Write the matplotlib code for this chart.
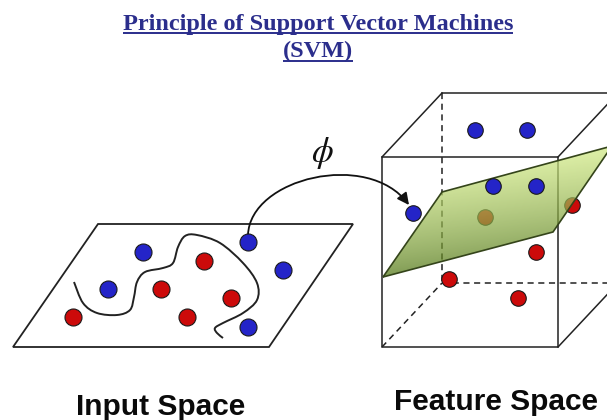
import numpy as np
import matplotlib
matplotlib.use("Agg")
import matplotlib.pyplot as plt
from matplotlib.path import Path
from matplotlib.patches import Polygon, PathPatch, FancyArrowPatch

plt.rcParams["mathtext.fontset"] = "stix"

# ---------------- data (pixel coordinates of the diagram) ----------------
title_line1 = "Principle of Support Vector Machines"
title_line2 = "(SVM)"
label_input = "Input Space"
label_feature = "Feature Space"
phi_label = r"$\phi$"

input_plane = [(98, 224), (353, 224), (269, 347), (13, 347)]
input_blue_x = [143, 108, 248, 283, 248]
input_blue_y = [252, 289, 242, 270, 327]
input_red_x = [73, 204, 161, 231, 187]
input_red_y = [317, 261, 289, 298, 317]
boundary_x = [74, 83, 97, 117, 130, 134, 137, 145, 163, 173, 178, 185, 197,
              220, 243, 257, 257, 243, 223, 215, 217, 223]
boundary_y = [282, 303, 313, 315, 310, 297, 282, 272, 268, 263, 247, 236, 235,
              243, 263, 283, 300, 313, 323, 328, 333, 338]

mapping_arc = [(248, 235), (250, 178), (368, 150), (409, 205)]

cube_front = [(382, 157), (558, 157), (558, 347), (382, 347)]
cube_offset = (60, -64)

plane_pts = [(383, 277), (442, 192), (612, 146), (553, 232)]

feat_blue_above_x = [493, 536]
feat_blue_above_y = [186, 186]
feat_blue_other_x = [475, 527, 413]
feat_blue_other_y = [130, 130, 213]
feat_red_behind_x = [485, 572]
feat_red_behind_y = [217, 205]
feat_red_below_x = [536, 449, 518]
feat_red_below_y = [252, 279, 298]

# ---------------- figure ----------------
fig = plt.figure(figsize=(6.07, 4.20), dpi=100)
ax = fig.add_axes([0, 0, 1, 1])
ax.set_xlim(0, 607)
ax.set_ylim(420, 0)
ax.axis("off")

LINE = "#222222"
BLUE = "#2424c8"
RED = "#cc0a0a"
EDGE = "#1a1a1a"

# title
tcol = "#2b2e8c"
t1 = ax.text(318, 30, title_line1, ha="center", va="baseline", color=tcol,
             fontsize=17.5, fontweight="bold", family="Liberation Serif")
t2 = ax.text(318, 57, title_line2, ha="center", va="baseline", color=tcol,
             fontsize=17.5, fontweight="bold", family="Liberation Serif")
fig.canvas.draw()
inv = ax.transData.inverted()
for t, yl in ((t1, 33), (t2, 61)):
    bb = t.get_window_extent()
    x0 = inv.transform((bb.x0, bb.y0))[0]
    x1 = inv.transform((bb.x1, bb.y0))[0]
    ax.plot([x0, x1], [yl, yl], color=tcol, lw=1.4, solid_capstyle="butt")

# ---------------- input space ----------------
ax.add_patch(Polygon(input_plane, closed=True, fill=False, edgecolor=LINE, lw=1.3, zorder=2))

# smooth boundary curve (Catmull-Rom -> cubic Bezier path)
pts = np.column_stack([boundary_x, boundary_y]).astype(float)
verts = [tuple(pts[0])]
codes = [Path.MOVETO]
n = len(pts)
for i in range(n - 1):
    p0 = pts[max(i - 1, 0)]
    p1 = pts[i]
    p2 = pts[i + 1]
    p3 = pts[min(i + 2, n - 1)]
    c1 = p1 + (p2 - p0) / 6.0
    c2 = p2 - (p3 - p1) / 6.0
    verts += [tuple(c1), tuple(c2), tuple(p2)]
    codes += [Path.CURVE4] * 3
ax.add_patch(PathPatch(Path(verts, codes), fill=False, edgecolor=LINE, lw=1.4, zorder=3))

S_IN = 150
ax.scatter(input_blue_x, input_blue_y, s=S_IN, color=BLUE, edgecolors=EDGE, linewidths=0.8, zorder=5)
ax.scatter(input_red_x, input_red_y, s=S_IN, color=RED, edgecolors=EDGE, linewidths=0.8, zorder=5)

# mapping arrow
arc = Path(mapping_arc, [Path.MOVETO, Path.CURVE4, Path.CURVE4, Path.CURVE4])
ax.add_patch(FancyArrowPatch(path=arc, arrowstyle="-|>,head_length=7,head_width=3.5",
                             color="#111111", lw=1.3, zorder=4))
ax.text(322, 153, phi_label, ha="center", va="center", fontsize=25, color="#111111")

# ---------------- feature space cube ----------------
dx, dy = cube_offset
back = [(x + dx, y + dy) for x, y in cube_front]
ax.add_patch(Polygon(cube_front, closed=True, fill=False, edgecolor=LINE, lw=1.1, zorder=2))
solid_edges = [(cube_front[0], back[0]), (back[0], back[1]),
               (cube_front[1], back[1]), (cube_front[2], back[2])]
for a, b in solid_edges:
    ax.plot([a[0], b[0]], [a[1], b[1]], color=LINE, lw=1.1, zorder=2)
dashed_edges = [(back[0], back[3]), (back[3], back[2]), (cube_front[3], back[3])]
for a, b in dashed_edges:
    ax.plot([a[0], b[0]], [a[1], b[1]], color=LINE, lw=1.1, ls=(0, (4, 3)), zorder=2)

S_F = 125
ax.scatter(feat_red_below_x, feat_red_below_y, s=S_F, color=RED, edgecolors=EDGE, linewidths=0.8, zorder=3)
ax.scatter(feat_red_behind_x, feat_red_behind_y, s=S_F, color=RED, edgecolors=EDGE, linewidths=0.8, zorder=3)
ax.scatter(feat_blue_other_x, feat_blue_other_y, s=S_F, color=BLUE, edgecolors=EDGE, linewidths=0.8, zorder=3)

# green hyperplane with gradient across its short direction
xs = [p[0] for p in plane_pts]
ys = [p[1] for p in plane_pts]
gx0, gx1, gy0, gy1 = min(xs), max(xs), min(ys), max(ys)
N = 240
GX, GY = np.meshgrid(np.linspace(gx0, gx1, N), np.linspace(gy0, gy1, N))
A = np.array(plane_pts[0], float)
e1 = np.array(plane_pts[3], float) - A   # along bottom edge
e2 = np.array(plane_pts[1], float) - A   # across (up the left edge)
M = np.linalg.inv(np.column_stack([e1, e2]))
rel = np.stack([GX - A[0], GY - A[1]], axis=-1)
coef = rel @ M.T
s_al = np.clip(coef[..., 0], 0, 1)
r_ac = np.clip(coef[..., 1], 0, 1)
t = np.clip(0.8 * r_ac + 0.25 * s_al, 0, 1) ** 0.8
dark = np.array([0.30, 0.45, 0.06])
light = np.array([0.80, 0.90, 0.50])
img = dark[None, None, :] * (1 - t[..., None]) + light[None, None, :] * t[..., None]
rgba = np.dstack([img, np.full((N, N), 0.72)])
im = ax.imshow(rgba, extent=(gx0, gx1, gy1, gy0), origin="upper", zorder=4,
               interpolation="bilinear", aspect="auto")
plane_patch = Polygon(plane_pts, closed=True, fill=False, edgecolor="#34441a", lw=1.2, zorder=5)
ax.add_patch(plane_patch)
im.set_clip_path(plane_patch)

ax.scatter(feat_blue_above_x, feat_blue_above_y, s=S_F, color=BLUE, edgecolors=EDGE, linewidths=0.8, zorder=6)

# ---------------- labels ----------------
ax.text(161, 415, label_input, ha="center", va="baseline", fontsize=21.5,
        family="Liberation Sans", fontweight="bold", color="#0a0a0a")
ax.text(496, 410, label_feature, ha="center", va="baseline", fontsize=21.5,
        family="Liberation Sans", fontweight="bold", color="#0a0a0a")

fig.savefig("out.png", dpi=100)
